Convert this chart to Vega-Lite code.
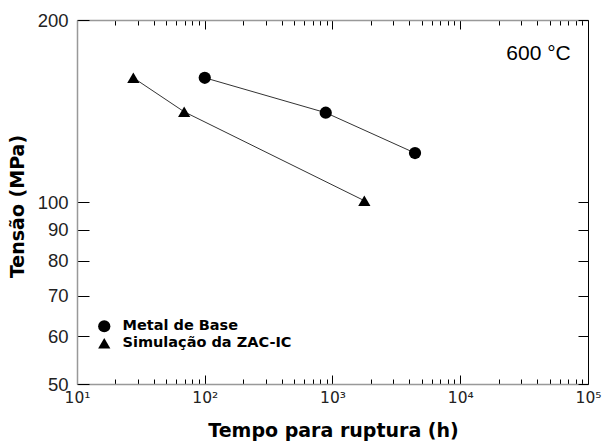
{
  "$schema": "https://vega.github.io/schema/vega-lite/v6.json",
  "width": 511,
  "height": 364,
  "autosize": {"type": "none"},
  "padding": {"left": 77, "top": 20, "right": 17, "bottom": 60},
  "background": "white",
  "config": {
    "view": {"stroke": null},
    "font": "Liberation Sans",
    "axis": {"grid": false, "labelFont": "Liberation Sans", "titleFont": "DejaVu Sans", "tickColor": "black", "labelColor": "#222"}
  },
  "data": {
    "values": [
      {"serie": "Metal de Base", "tempo": 100, "tensao": 160.5},
      {"serie": "Metal de Base", "tempo": 885, "tensao": 140.5},
      {"serie": "Metal de Base", "tempo": 4425, "tensao": 120.5},
      {"serie": "Simulação da ZAC-IC", "tempo": 27.6, "tensao": 160.5},
      {"serie": "Simulação da ZAC-IC", "tempo": 69, "tensao": 141},
      {"serie": "Simulação da ZAC-IC", "tempo": 1775, "tensao": 100.5}
    ]
  },
  "resolve": {"axis": {"x": "independent", "y": "independent"}},
  "layer": [
    {
      "mark": {"type": "line", "color": "#333", "strokeWidth": 1},
      "encoding": {
        "x": {"field": "tempo", "type": "quantitative", "scale": {"type": "log", "domain": [10, 100000], "nice": false}, "axis": null},
        "y": {"field": "tensao", "type": "quantitative", "scale": {"type": "log", "domain": [50, 200], "nice": false}, "axis": null},
        "detail": {"field": "serie"}
      }
    },
    {
      "mark": {"type": "point", "filled": true, "color": "black", "opacity": 1, "size": 150},
      "encoding": {
        "x": {"field": "tempo", "type": "quantitative", "scale": {"type": "log", "domain": [10, 100000], "nice": false},
          "axis": {
            "orient": "bottom",
            "title": "Tempo para ruptura (h)",
            "titleFontSize": 19, "titleFontWeight": "bold", "titleColor": "black",
            "titleX": 256, "titleY": 46, "titleBaseline": "middle", "titleAlign": "center",
            "values": [10,20,30,40,50,60,70,80,90,100,200,300,400,500,600,700,800,900,1000,2000,3000,4000,5000,6000,7000,8000,9000,10000,20000,30000,40000,50000,60000,70000,80000,90000,100000],
            "labelExpr": "abs(log(datum.value)/LN10 - round(log(datum.value)/LN10)) < 1e-6 ? '10' + ['⁰','¹','²','³','⁴','⁵'][round(log(datum.value)/LN10)] : ''",
            "labelFont": "DejaVu Sans", "labelFontSize": 15.5, "labelOverlap": false, "labelFlush": false, "labelPadding": 15,
            "tickSize": {"condition": {"test": "abs(log(datum.value)/LN10 - round(log(datum.value)/LN10)) < 1e-6", "value": -9}, "value": -5},
            "domainColor": "#999", "domainWidth": 1.5
          }
        },
        "y": {"field": "tensao", "type": "quantitative", "scale": {"type": "log", "domain": [50, 200], "nice": false},
          "axis": {
            "orient": "left",
            "title": "Tensão (MPa)",
            "titleFontSize": 19, "titleFontWeight": "bold", "titleColor": "black",
            "titleX": -60, "titleY": 186, "titleBaseline": "middle", "titleAlign": "center", "titleAngle": -90,
            "values": [50,60,70,80,90,100,200],
            "labelExpr": "format(datum.value, 'd')",
            "labelFontSize": 18.5, "labelOverlap": false, "labelFlush": false, "labelPadding": 21,
            "tickSize": -12,
            "domainColor": "#999", "domainWidth": 1.5
          }
        },
        "shape": {"field": "serie", "type": "nominal",
          "scale": {"domain": ["Metal de Base", "Simulação da ZAC-IC"], "range": ["circle", "triangle-up"]},
          "legend": {
            "title": null, "orient": "none", "legendX": 20, "legendY": 299, "padding": 0,
            "labelFontSize": 14.5, "labelFontWeight": "bold", "labelColor": "black", "labelFont": "DejaVu Sans", "labelLimit": 0,
            "symbolSize": 150, "symbolFillColor": "black", "symbolStrokeColor": "black", "symbolStrokeWidth": 0, "symbolOpacity": 1,
            "rowPadding": 2, "labelOffset": 11
          }
        }
      }
    },
    {
      "data": {"values": [{"rotulo": "600 °C", "tempo": 41000, "tensao": 175.7}]},
      "mark": {"type": "text", "fontSize": 21, "fontWeight": "normal", "color": "black", "font": "Liberation Sans", "align": "center", "baseline": "middle"},
      "encoding": {
        "x": {"field": "tempo", "type": "quantitative", "scale": {"type": "log", "domain": [10, 100000], "nice": false},
          "axis": {
            "orient": "top", "title": null, "labels": false,
            "values": [10,20,30,40,50,60,70,80,90,100,200,300,400,500,600,700,800,900,1000,2000,3000,4000,5000,6000,7000,8000,9000,10000,20000,30000,40000,50000,60000,70000,80000,90000,100000],
            "tickSize": {"condition": {"test": "abs(log(datum.value)/LN10 - round(log(datum.value)/LN10)) < 1e-6", "value": -9}, "value": -5},
            "domainColor": "#999", "domainWidth": 1.5
          }
        },
        "y": {"field": "tensao", "type": "quantitative", "scale": {"type": "log", "domain": [50, 200], "nice": false},
          "axis": {
            "orient": "right", "title": null, "labels": false,
            "values": [50,60,70,80,90,100,200],
            "tickSize": -10,
            "domainColor": "black", "domainWidth": 1
          }
        },
        "text": {"field": "rotulo"}
      }
    }
  ]
}
